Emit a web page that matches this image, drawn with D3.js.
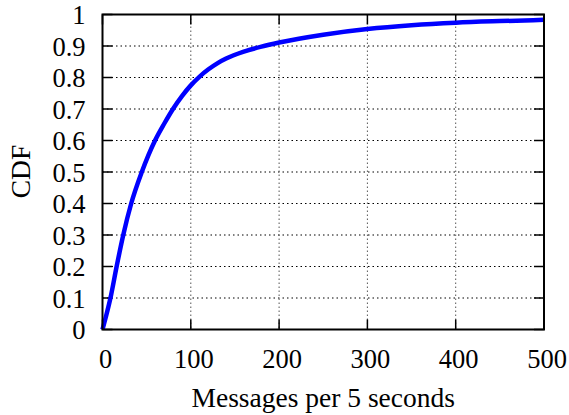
<!DOCTYPE html>
<html>
<head>
<meta charset="utf-8">
<script src="https://cdn.jsdelivr.net/npm/d3@7"></script>
<style>
  body { margin: 0; background: #fff; }
  text { font-family: "Liberation Serif", "Times New Roman", serif; font-size: 26.5px; fill: #000; }
  .title { font-size: 27.5px; }
</style>
</head>
<body>
<script>
// values
var msgs = [0, 4, 9, 16, 23.5, 32.5, 44.5, 59.5, 70, 80, 90, 100, 110, 120, 130, 140, 160, 180, 200, 250, 300, 350, 400, 450, 500];
var cdf  = [0, 0.042, 0.1, 0.2, 0.3, 0.4, 0.5, 0.6, 0.654, 0.701, 0.741, 0.775, 0.803, 0.826, 0.845, 0.86, 0.882, 0.898, 0.911, 0.936, 0.954, 0.966, 0.974, 0.979, 0.983];
var xTicks = [0, 100, 200, 300, 400, 500];
var yTicks = [0, 0.1, 0.2, 0.3, 0.4, 0.5, 0.6, 0.7, 0.8, 0.9, 1];

var width = 569, height = 415;
var margin = {top: 14.5, right: 25, bottom: 85.5, left: 102.5};
var w = width - margin.left - margin.right,
    h = height - margin.top - margin.bottom;

var svg = d3.select("body").append("svg")
    .attr("width", width)
    .attr("height", height);

var g = svg.append("g")
    .attr("transform", "translate(" + margin.left + "," + margin.top + ")");

var x = d3.scaleLinear().domain([0, 500]).range([0, w]);
var y = d3.scaleLinear().domain([0, 1]).range([h, 0]);

// grid
g.selectAll(".hgrid")
    .data(yTicks.filter(function (d) { return d > 0 && d < 1; }))
  .enter().append("line")
    .attr("x1", 0).attr("x2", w)
    .attr("y1", function (d) { return y(d); })
    .attr("y2", function (d) { return y(d); })
    .style("stroke", "#000")
    .style("stroke-width", 1)
    .style("stroke-dasharray", "1.5,3");

g.selectAll(".vgrid")
    .data(xTicks.filter(function (d) { return d > 0 && d < 500; }))
  .enter().append("line")
    .attr("y1", 0).attr("y2", h)
    .attr("x1", function (d) { return x(d); })
    .attr("x2", function (d) { return x(d); })
    .style("stroke", "#555")
    .style("stroke-width", 1)
    .style("stroke-dasharray", "1.5,2.5");

// ticks, inward, mirrored
var tl = 10;
yTicks.forEach(function (d) {
  g.append("line").attr("x1", 0).attr("x2", tl).attr("y1", y(d)).attr("y2", y(d))
    .style("stroke", "#000").style("stroke-width", 1.5);
  g.append("line").attr("x1", w - tl).attr("x2", w).attr("y1", y(d)).attr("y2", y(d))
    .style("stroke", "#000").style("stroke-width", 1.5);
  g.append("text")
    .attr("x", -17).attr("y", y(d) + 9.5)
    .attr("text-anchor", "end")
    .text(d3.format("")(d));
});
xTicks.forEach(function (d) {
  g.append("line").attr("y1", h).attr("y2", h - tl).attr("x1", x(d)).attr("x2", x(d))
    .style("stroke", "#000").style("stroke-width", 1.5);
  g.append("line").attr("y1", 0).attr("y2", tl).attr("x1", x(d)).attr("x2", x(d))
    .style("stroke", "#000").style("stroke-width", 1.5);
  g.append("text")
    .attr("x", x(d) + 3).attr("y", h + 38)
    .attr("text-anchor", "middle")
    .text(d);
});

// curve
var line = d3.line()
    .x(function (d, i) { return x(msgs[i]); })
    .y(function (d) { return y(d); })
    .curve(d3.curveMonotoneX);

g.append("path")
    .datum(cdf)
    .attr("d", line)
    .style("fill", "none")
    .style("stroke", "#0000ff")
    .style("stroke-width", 4.5)
    .style("stroke-linejoin", "round");

// border
g.append("rect")
    .attr("width", w).attr("height", h)
    .style("fill", "none")
    .style("stroke", "#000")
    .style("stroke-width", 2);

// axis titles
svg.append("text")
    .attr("class", "title")
    .attr("x", margin.left + w / 2).attr("y", 407)
    .attr("text-anchor", "middle")
    .text("Messages per 5 seconds");

svg.append("text")
    .attr("class", "title")
    .attr("transform", "translate(30,171.5) rotate(-90)")
    .attr("text-anchor", "middle")
    .text("CDF");
</script>
</body>
</html>
